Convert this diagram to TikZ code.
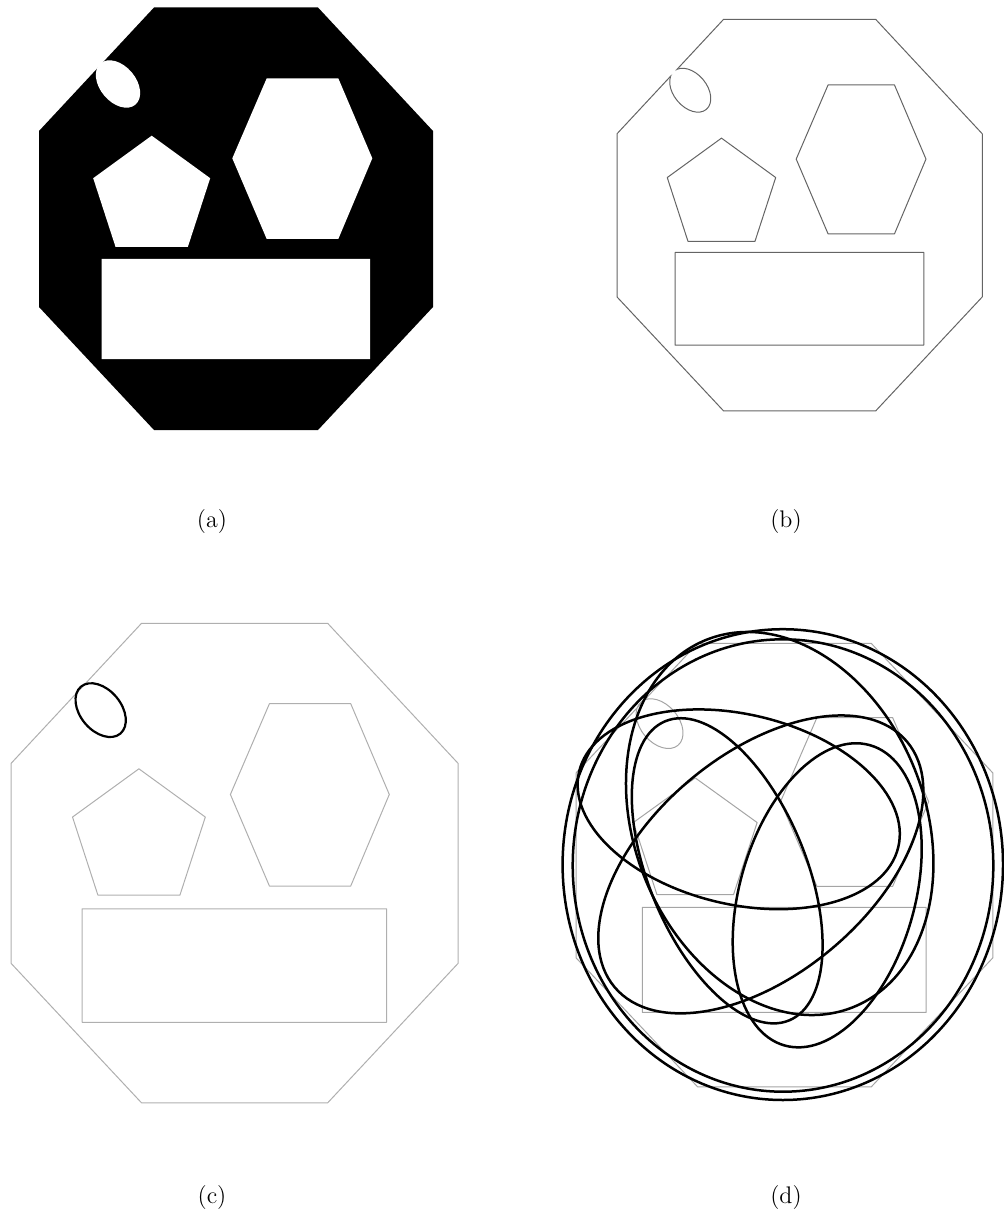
\documentclass[tikz,border=0pt]{standalone}
\usepackage{tikz}
\definecolor{colb}{RGB}{100,100,100}
\definecolor{colc}{RGB}{175,175,175}
\definecolor{cold}{RGB}{165,165,165}
\tikzset{
  lineb/.style={draw=colb, line width=0.5pt, line join=round},
  linec/.style={draw=colc, line width=0.5pt, line join=round},
  lined/.style={draw=cold, line width=0.5pt, line join=round},
  bold/.style={draw=black, line width=1.25pt},
  captext/.style={font=\fontsize{12}{14}\selectfont, inner sep=0pt}
}
\def\octP{(115,0) -- (279,0) -- (394,123.5) -- (394,299.5) -- (279,422.5) -- (115,422.5) -- (0,299.5) -- (0,123.5) -- cycle}
\def\ellP{(79,76.5) ellipse [x radius=27, y radius=18, rotate=-50]}
\def\pentP{(112.7,128.2) -- (171.2,170.7) -- (148.85,239.45) -- (76.55,239.45) -- (54.2,170.7) -- cycle}
\def\hexP{(227.7,70.8) -- (299.3,70.8) -- (333.3,150.8) -- (299.3,231.5) -- (227.7,231.5) -- (193.3,150.8) -- cycle}
\def\rectP{(62.7,251.5) rectangle (331,351.5)}
\begin{document}
\begin{tikzpicture}[x=0.5pt,y=-0.5pt]
\useasboundingbox (0,0) rectangle (1004,1219);
% (a)
\begin{scope}[shift={(39,7.5)}]
  \fill[black] \octP;
  \fill[white] \ellP \pentP \hexP \rectP;
\end{scope}
% (b)
\begin{scope}[shift={(617,19.3)}, scale=0.927]
  \begin{scope}[even odd rule]
    \clip (-60,-60) rectangle (460,490) \ellP;
    \draw[lineb] \octP;
  \end{scope}
  \begin{scope}
    \clip \octP;
    \draw[lineb] \ellP;
  \end{scope}
  \draw[lineb] \pentP \hexP \rectP;
\end{scope}
% (c)
\begin{scope}[shift={(11,623.3)}, scale=1.135]
  \draw[linec] \octP \pentP \hexP \rectP;
  \draw[bold, line width=1.1pt] \ellP;
\end{scope}
% (d)
\begin{scope}[shift={(576,643.3)}, xscale=1.058, yscale=1.05]
  \draw[lined] \octP \ellP \pentP \hexP \rectP;
\end{scope}
\draw[bold] (782.8,864.6) ellipse [x radius=220.2, y radius=235.4];
\draw[bold] (783,865.5) ellipse [x radius=210.3, y radius=226.2];
\draw[bold] (738.7,809.3) ellipse [x radius=164, y radius=95, rotate=-13.3];
\draw[bold] (760.8,864.4) ellipse [x radius=190.9, y radius=110.2, rotate=40];
\draw[bold] (727.2,870.8) ellipse [x radius=161.9, y radius=78.5, rotate=-67.5];
\draw[bold] (827.2,895.3) ellipse [x radius=156.1, y radius=87.6, rotate=74.1];
\draw[bold] (779.7,823.5) ellipse [x radius=197.8, y radius=145.5, rotate=-68.3];
% captions
\node[captext] (capa) at (212,522) {(a)};
\node[captext] (capb) at (786,522) {(b)};
\node[captext] (capc) at (212,1197) {(c)};
\node[captext] (capd) at (786,1197) {(d)};
\end{tikzpicture}
\end{document}
